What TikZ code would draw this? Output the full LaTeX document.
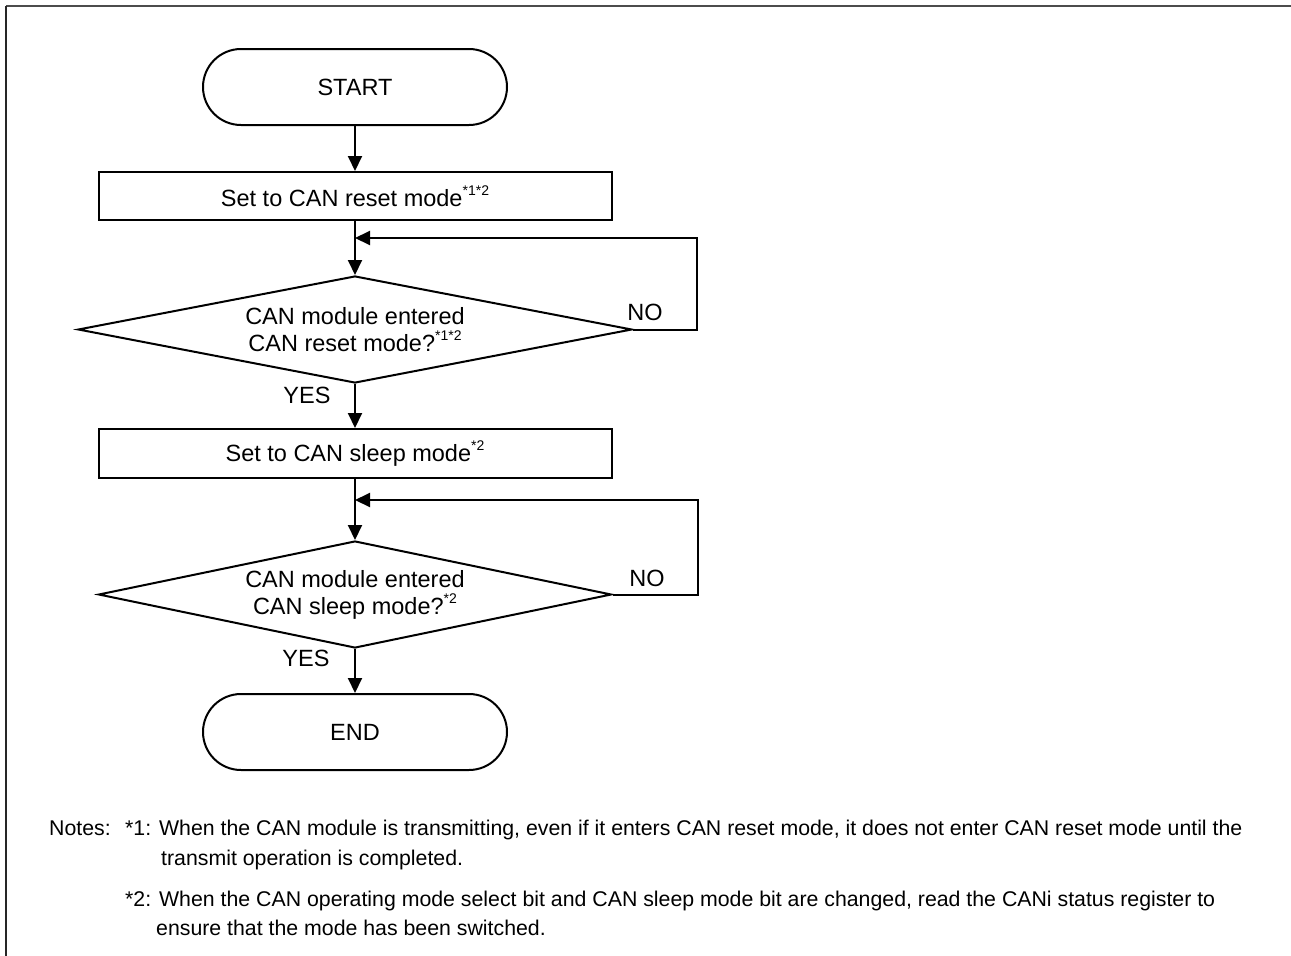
\documentclass[tikz,border=0pt]{standalone}
\usepackage{fontspec}
\setmainfont{Liberation Sans}
\usetikzlibrary{shapes.geometric,arrows.meta}
\newcommand\supmark[1]{\raisebox{0.45em}{\fontsize{14}{14}\selectfont #1}}
\begin{document}
\begin{tikzpicture}[x=1pt,y=-1pt,
  every node/.style={font=\fontsize{23.5}{27}\selectfont, inner sep=0pt, align=center},
  term/.style={draw, line width=2pt, rounded corners=38pt, minimum width=304pt, minimum height=76pt},
  proc/.style={draw, line width=2pt, minimum width=513pt, minimum height=48pt},
  dec/.style={draw, line width=2pt, diamond, aspect=5.2, minimum height=107pt},
  arr/.style={line width=2pt, -{Triangle[length=15pt,width=14pt]}},
  lbl/.style={font=\fontsize{23.5}{27}\selectfont},
  note/.style={anchor=base west, font=\fontsize{21.3}{25}\selectfont, align=left},
  frame/.style={line width=2pt}]
\useasboundingbox (0,0) rectangle (1291,956);
% frame
\draw[frame, black!70] (6,6) -- (1291,6);
\draw[frame, black!85] (6,6) -- (6,956);
% nodes
\node[term] (start) at (355,87) {START};
\node[proc] (box1) at (355,196) {Set to CAN reset mode\supmark{*1*2}};
\node[dec, minimum width=554pt] (dia1) at (355,329.5) {CAN module entered\\CAN reset mode?\supmark{*1*2}};
\node[proc, minimum height=49pt] (box2) at (355,453.5) {Set to CAN sleep mode\supmark{*2}};
\node[dec, minimum width=513pt] (dia2) at (355,594.5) {CAN module entered\\CAN sleep mode?\supmark{*2}};
\node[term] (end) at (355,732) {END};
% labels
\node[lbl] (no1) at (645,312) {NO};
\node[lbl] (yes1) at (307,395) {YES};
\node[lbl] (no2) at (647,578) {NO};
\node[lbl] (yes2) at (306,658) {YES};
% junctions
\coordinate (j1) at (355,238);
\coordinate (j2) at (355,500);
% connectors
\draw[arr] (start) -- (box1);
\draw[arr] (box1) -- (dia1);
\draw[arr] (dia1) -- (box2);
\draw[arr] (box2) -- (dia2);
\draw[arr] (dia2) -- (end);
\draw[arr] (dia1.east) -- (697,329.5) |- (j1);
\draw[arr] (dia2.east) -- (698,594.5) |- (j2);
% notes
\node[note] (notes) at (49,835) {Notes:};
\node[note] (n1a) at (125,835) {*1: When the CAN module is transmitting, even if it enters CAN reset mode, it does not enter CAN reset mode until the};
\node[note] (n1b) at (161,865) {transmit operation is completed.};
\node[note] (n2a) at (125,906) {*2: When the CAN operating mode select bit and CAN sleep mode bit are changed, read the CANi status register to};
\node[note] (n2b) at (156,935) {ensure that the mode has been switched.};
\end{tikzpicture}
\end{document}
